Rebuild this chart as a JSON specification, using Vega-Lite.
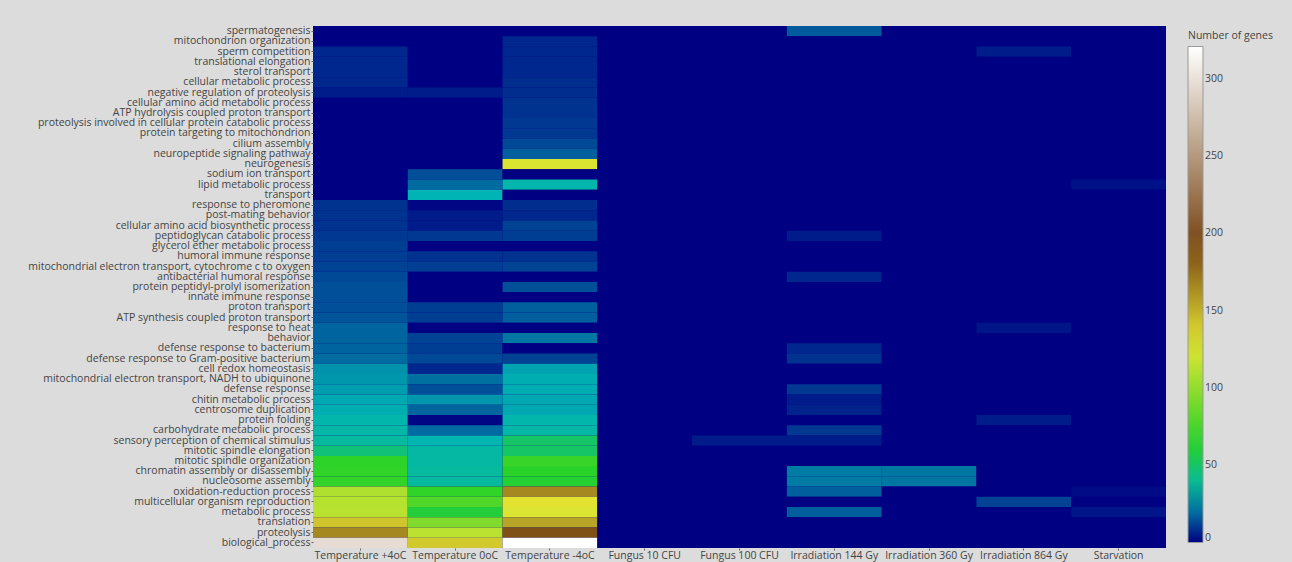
{
  "$schema": "https://vega.github.io/schema/vega-lite/v6.json",
  "width": 853,
  "height": 522,
  "autosize": {"type": "none"},
  "padding": {"left": 313, "top": 26, "right": 126, "bottom": 14},
  "background": "#dcdcdc",
  "config": {
    "view": {"stroke": null, "fill": "rgb(0,0,130)"},
    "font": "Open Sans",
    "axis": {"labelFont": "Open Sans", "labelFontSize": 10.5, "labelColor": "#444", "domain": false, "grid": false, "ticks": true, "tickSize": 2, "tickColor": "#666", "title": null}
  },
  "data": {"values": [
    {"term": "spermatogenesis", "Temperature +4oC": 0, "Temperature 0oC": 0, "Temperature -4oC": 0, "Fungus 10 CFU": 0, "Fungus 100 CFU": 0, "Irradiation 144 Gy": 16, "Irradiation 360 Gy": 0, "Irradiation 864 Gy": 0, "Starvation": 0},
    {"term": "mitochondrion organization", "Temperature +4oC": 0, "Temperature 0oC": 0, "Temperature -4oC": 7, "Fungus 10 CFU": 0, "Fungus 100 CFU": 0, "Irradiation 144 Gy": 0, "Irradiation 360 Gy": 0, "Irradiation 864 Gy": 0, "Starvation": 0},
    {"term": "sperm competition", "Temperature +4oC": 7, "Temperature 0oC": 0, "Temperature -4oC": 7, "Fungus 10 CFU": 0, "Fungus 100 CFU": 0, "Irradiation 144 Gy": 0, "Irradiation 360 Gy": 0, "Irradiation 864 Gy": 5, "Starvation": 0},
    {"term": "translational elongation", "Temperature +4oC": 7, "Temperature 0oC": 0, "Temperature -4oC": 7, "Fungus 10 CFU": 0, "Fungus 100 CFU": 0, "Irradiation 144 Gy": 0, "Irradiation 360 Gy": 0, "Irradiation 864 Gy": 0, "Starvation": 0},
    {"term": "sterol transport", "Temperature +4oC": 7, "Temperature 0oC": 0, "Temperature -4oC": 7, "Fungus 10 CFU": 0, "Fungus 100 CFU": 0, "Irradiation 144 Gy": 0, "Irradiation 360 Gy": 0, "Irradiation 864 Gy": 0, "Starvation": 0},
    {"term": "cellular metabolic process", "Temperature +4oC": 7, "Temperature 0oC": 0, "Temperature -4oC": 8, "Fungus 10 CFU": 0, "Fungus 100 CFU": 0, "Irradiation 144 Gy": 0, "Irradiation 360 Gy": 0, "Irradiation 864 Gy": 0, "Starvation": 0},
    {"term": "negative regulation of proteolysis", "Temperature +4oC": 5, "Temperature 0oC": 5, "Temperature -4oC": 8, "Fungus 10 CFU": 0, "Fungus 100 CFU": 0, "Irradiation 144 Gy": 0, "Irradiation 360 Gy": 0, "Irradiation 864 Gy": 0, "Starvation": 0},
    {"term": "cellular amino acid metabolic process", "Temperature +4oC": 0, "Temperature 0oC": 0, "Temperature -4oC": 9, "Fungus 10 CFU": 0, "Fungus 100 CFU": 0, "Irradiation 144 Gy": 0, "Irradiation 360 Gy": 0, "Irradiation 864 Gy": 0, "Starvation": 0},
    {"term": "ATP hydrolysis coupled proton transport", "Temperature +4oC": 0, "Temperature 0oC": 0, "Temperature -4oC": 9, "Fungus 10 CFU": 0, "Fungus 100 CFU": 0, "Irradiation 144 Gy": 0, "Irradiation 360 Gy": 0, "Irradiation 864 Gy": 0, "Starvation": 0},
    {"term": "proteolysis involved in cellular protein catabolic process", "Temperature +4oC": 0, "Temperature 0oC": 0, "Temperature -4oC": 10, "Fungus 10 CFU": 0, "Fungus 100 CFU": 0, "Irradiation 144 Gy": 0, "Irradiation 360 Gy": 0, "Irradiation 864 Gy": 0, "Starvation": 0},
    {"term": "protein targeting to mitochondrion", "Temperature +4oC": 0, "Temperature 0oC": 0, "Temperature -4oC": 10, "Fungus 10 CFU": 0, "Fungus 100 CFU": 0, "Irradiation 144 Gy": 0, "Irradiation 360 Gy": 0, "Irradiation 864 Gy": 0, "Starvation": 0},
    {"term": "cilium assembly", "Temperature +4oC": 0, "Temperature 0oC": 0, "Temperature -4oC": 13, "Fungus 10 CFU": 0, "Fungus 100 CFU": 0, "Irradiation 144 Gy": 0, "Irradiation 360 Gy": 0, "Irradiation 864 Gy": 0, "Starvation": 0},
    {"term": "neuropeptide signaling pathway", "Temperature +4oC": 0, "Temperature 0oC": 0, "Temperature -4oC": 17, "Fungus 10 CFU": 0, "Fungus 100 CFU": 0, "Irradiation 144 Gy": 0, "Irradiation 360 Gy": 0, "Irradiation 864 Gy": 0, "Starvation": 0},
    {"term": "neurogenesis", "Temperature +4oC": 0, "Temperature 0oC": 0, "Temperature -4oC": 124, "Fungus 10 CFU": 0, "Fungus 100 CFU": 0, "Irradiation 144 Gy": 0, "Irradiation 360 Gy": 0, "Irradiation 864 Gy": 0, "Starvation": 0},
    {"term": "sodium ion transport", "Temperature +4oC": 0, "Temperature 0oC": 14, "Temperature -4oC": 0, "Fungus 10 CFU": 0, "Fungus 100 CFU": 0, "Irradiation 144 Gy": 0, "Irradiation 360 Gy": 0, "Irradiation 864 Gy": 0, "Starvation": 0},
    {"term": "lipid metabolic process", "Temperature +4oC": 0, "Temperature 0oC": 19, "Temperature -4oC": 34, "Fungus 10 CFU": 0, "Fungus 100 CFU": 0, "Irradiation 144 Gy": 0, "Irradiation 360 Gy": 0, "Irradiation 864 Gy": 0, "Starvation": 3},
    {"term": "transport", "Temperature +4oC": 0, "Temperature 0oC": 32, "Temperature -4oC": 0, "Fungus 10 CFU": 0, "Fungus 100 CFU": 0, "Irradiation 144 Gy": 0, "Irradiation 360 Gy": 0, "Irradiation 864 Gy": 0, "Starvation": 0},
    {"term": "response to pheromone", "Temperature +4oC": 9, "Temperature 0oC": 1, "Temperature -4oC": 8, "Fungus 10 CFU": 0, "Fungus 100 CFU": 0, "Irradiation 144 Gy": 0, "Irradiation 360 Gy": 0, "Irradiation 864 Gy": 0, "Starvation": 0},
    {"term": "post-mating behavior", "Temperature +4oC": 9, "Temperature 0oC": 5, "Temperature -4oC": 7, "Fungus 10 CFU": 0, "Fungus 100 CFU": 0, "Irradiation 144 Gy": 0, "Irradiation 360 Gy": 0, "Irradiation 864 Gy": 0, "Starvation": 0},
    {"term": "cellular amino acid biosynthetic process", "Temperature +4oC": 9, "Temperature 0oC": 5, "Temperature -4oC": 12, "Fungus 10 CFU": 0, "Fungus 100 CFU": 0, "Irradiation 144 Gy": 0, "Irradiation 360 Gy": 0, "Irradiation 864 Gy": 0, "Starvation": 0},
    {"term": "peptidoglycan catabolic process", "Temperature +4oC": 10, "Temperature 0oC": 10, "Temperature -4oC": 11, "Fungus 10 CFU": 0, "Fungus 100 CFU": 0, "Irradiation 144 Gy": 5, "Irradiation 360 Gy": 0, "Irradiation 864 Gy": 0, "Starvation": 0},
    {"term": "glycerol ether metabolic process", "Temperature +4oC": 11, "Temperature 0oC": 0, "Temperature -4oC": 0, "Fungus 10 CFU": 0, "Fungus 100 CFU": 0, "Irradiation 144 Gy": 0, "Irradiation 360 Gy": 0, "Irradiation 864 Gy": 0, "Starvation": 0},
    {"term": "humoral immune response", "Temperature +4oC": 11, "Temperature 0oC": 9, "Temperature -4oC": 9, "Fungus 10 CFU": 0, "Fungus 100 CFU": 0, "Irradiation 144 Gy": 0, "Irradiation 360 Gy": 0, "Irradiation 864 Gy": 0, "Starvation": 0},
    {"term": "mitochondrial electron transport, cytochrome c to oxygen", "Temperature +4oC": 12, "Temperature 0oC": 11, "Temperature -4oC": 12, "Fungus 10 CFU": 0, "Fungus 100 CFU": 0, "Irradiation 144 Gy": 0, "Irradiation 360 Gy": 0, "Irradiation 864 Gy": 0, "Starvation": 0},
    {"term": "antibacterial humoral response", "Temperature +4oC": 13, "Temperature 0oC": 0, "Temperature -4oC": 0, "Fungus 10 CFU": 0, "Fungus 100 CFU": 0, "Irradiation 144 Gy": 7, "Irradiation 360 Gy": 0, "Irradiation 864 Gy": 0, "Starvation": 0},
    {"term": "protein peptidyl-prolyl isomerization", "Temperature +4oC": 14, "Temperature 0oC": 0, "Temperature -4oC": 14, "Fungus 10 CFU": 0, "Fungus 100 CFU": 0, "Irradiation 144 Gy": 0, "Irradiation 360 Gy": 0, "Irradiation 864 Gy": 0, "Starvation": 0},
    {"term": "innate immune response", "Temperature +4oC": 14, "Temperature 0oC": 0, "Temperature -4oC": 0, "Fungus 10 CFU": 0, "Fungus 100 CFU": 0, "Irradiation 144 Gy": 0, "Irradiation 360 Gy": 0, "Irradiation 864 Gy": 0, "Starvation": 0},
    {"term": "proton transport", "Temperature +4oC": 14, "Temperature 0oC": 11, "Temperature -4oC": 17, "Fungus 10 CFU": 0, "Fungus 100 CFU": 0, "Irradiation 144 Gy": 0, "Irradiation 360 Gy": 0, "Irradiation 864 Gy": 0, "Starvation": 0},
    {"term": "ATP synthesis coupled proton transport", "Temperature +4oC": 15, "Temperature 0oC": 11, "Temperature -4oC": 17, "Fungus 10 CFU": 0, "Fungus 100 CFU": 0, "Irradiation 144 Gy": 0, "Irradiation 360 Gy": 0, "Irradiation 864 Gy": 0, "Starvation": 0},
    {"term": "response to heat", "Temperature +4oC": 18, "Temperature 0oC": 0, "Temperature -4oC": 0, "Fungus 10 CFU": 0, "Fungus 100 CFU": 0, "Irradiation 144 Gy": 0, "Irradiation 360 Gy": 0, "Irradiation 864 Gy": 4, "Starvation": 0},
    {"term": "behavior", "Temperature +4oC": 18, "Temperature 0oC": 12, "Temperature -4oC": 21, "Fungus 10 CFU": 0, "Fungus 100 CFU": 0, "Irradiation 144 Gy": 0, "Irradiation 360 Gy": 0, "Irradiation 864 Gy": 0, "Starvation": 0},
    {"term": "defense response to bacterium", "Temperature +4oC": 18, "Temperature 0oC": 11, "Temperature -4oC": 0, "Fungus 10 CFU": 0, "Fungus 100 CFU": 0, "Irradiation 144 Gy": 7, "Irradiation 360 Gy": 0, "Irradiation 864 Gy": 0, "Starvation": 0},
    {"term": "defense response to Gram-positive bacterium", "Temperature +4oC": 19, "Temperature 0oC": 13, "Temperature -4oC": 12, "Fungus 10 CFU": 0, "Fungus 100 CFU": 0, "Irradiation 144 Gy": 9, "Irradiation 360 Gy": 0, "Irradiation 864 Gy": 0, "Starvation": 0},
    {"term": "cell redox homeostasis", "Temperature +4oC": 26, "Temperature 0oC": 7, "Temperature -4oC": 29, "Fungus 10 CFU": 0, "Fungus 100 CFU": 0, "Irradiation 144 Gy": 0, "Irradiation 360 Gy": 0, "Irradiation 864 Gy": 0, "Starvation": 0},
    {"term": "mitochondrial electron transport, NADH to ubiquinone", "Temperature +4oC": 27, "Temperature 0oC": 20, "Temperature -4oC": 31, "Fungus 10 CFU": 0, "Fungus 100 CFU": 0, "Irradiation 144 Gy": 0, "Irradiation 360 Gy": 0, "Irradiation 864 Gy": 0, "Starvation": 0},
    {"term": "defense response", "Temperature +4oC": 28, "Temperature 0oC": 14, "Temperature -4oC": 31, "Fungus 10 CFU": 0, "Fungus 100 CFU": 0, "Irradiation 144 Gy": 10, "Irradiation 360 Gy": 0, "Irradiation 864 Gy": 0, "Starvation": 0},
    {"term": "chitin metabolic process", "Temperature +4oC": 30, "Temperature 0oC": 27, "Temperature -4oC": 30, "Fungus 10 CFU": 0, "Fungus 100 CFU": 0, "Irradiation 144 Gy": 5, "Irradiation 360 Gy": 0, "Irradiation 864 Gy": 0, "Starvation": 0},
    {"term": "centrosome duplication", "Temperature +4oC": 31, "Temperature 0oC": 18, "Temperature -4oC": 30, "Fungus 10 CFU": 0, "Fungus 100 CFU": 0, "Irradiation 144 Gy": 6, "Irradiation 360 Gy": 0, "Irradiation 864 Gy": 0, "Starvation": 0},
    {"term": "protein folding", "Temperature +4oC": 34, "Temperature 0oC": 1, "Temperature -4oC": 34, "Fungus 10 CFU": 0, "Fungus 100 CFU": 0, "Irradiation 144 Gy": 0, "Irradiation 360 Gy": 0, "Irradiation 864 Gy": 5, "Starvation": 0},
    {"term": "carbohydrate metabolic process", "Temperature +4oC": 35, "Temperature 0oC": 19, "Temperature -4oC": 35, "Fungus 10 CFU": 0, "Fungus 100 CFU": 0, "Irradiation 144 Gy": 10, "Irradiation 360 Gy": 0, "Irradiation 864 Gy": 0, "Starvation": 0},
    {"term": "sensory perception of chemical stimulus", "Temperature +4oC": 37, "Temperature 0oC": 33, "Temperature -4oC": 50, "Fungus 10 CFU": 0, "Fungus 100 CFU": 5, "Irradiation 144 Gy": 5, "Irradiation 360 Gy": 0, "Irradiation 864 Gy": 0, "Starvation": 0},
    {"term": "mitotic spindle elongation", "Temperature +4oC": 46, "Temperature 0oC": 36, "Temperature -4oC": 50, "Fungus 10 CFU": 0, "Fungus 100 CFU": 0, "Irradiation 144 Gy": 0, "Irradiation 360 Gy": 0, "Irradiation 864 Gy": 0, "Starvation": 0},
    {"term": "mitotic spindle organization", "Temperature +4oC": 66, "Temperature 0oC": 36, "Temperature -4oC": 70, "Fungus 10 CFU": 0, "Fungus 100 CFU": 0, "Irradiation 144 Gy": 0, "Irradiation 360 Gy": 0, "Irradiation 864 Gy": 0, "Starvation": 0},
    {"term": "chromatin assembly or disassembly", "Temperature +4oC": 67, "Temperature 0oC": 37, "Temperature -4oC": 64, "Fungus 10 CFU": 0, "Fungus 100 CFU": 0, "Irradiation 144 Gy": 22, "Irradiation 360 Gy": 21, "Irradiation 864 Gy": 0, "Starvation": 0},
    {"term": "nucleosome assembly", "Temperature +4oC": 68, "Temperature 0oC": 37, "Temperature -4oC": 62, "Fungus 10 CFU": 0, "Fungus 100 CFU": 0, "Irradiation 144 Gy": 22, "Irradiation 360 Gy": 21, "Irradiation 864 Gy": 0, "Starvation": 0},
    {"term": "oxidation-reduction process", "Temperature +4oC": 110, "Temperature 0oC": 67, "Temperature -4oC": 166, "Fungus 10 CFU": 0, "Fungus 100 CFU": 0, "Irradiation 144 Gy": 17, "Irradiation 360 Gy": 0, "Irradiation 864 Gy": 0, "Starvation": 2},
    {"term": "multicellular organism reproduction", "Temperature +4oC": 112, "Temperature 0oC": 78, "Temperature -4oC": 130, "Fungus 10 CFU": 0, "Fungus 100 CFU": 0, "Irradiation 144 Gy": 0, "Irradiation 360 Gy": 0, "Irradiation 864 Gy": 12, "Starvation": 0},
    {"term": "metabolic process", "Temperature +4oC": 113, "Temperature 0oC": 60, "Temperature -4oC": 125, "Fungus 10 CFU": 0, "Fungus 100 CFU": 0, "Irradiation 144 Gy": 17, "Irradiation 360 Gy": 0, "Irradiation 864 Gy": 0, "Starvation": 4},
    {"term": "translation", "Temperature +4oC": 142, "Temperature 0oC": 94, "Temperature -4oC": 155, "Fungus 10 CFU": 0, "Fungus 100 CFU": 0, "Irradiation 144 Gy": 0, "Irradiation 360 Gy": 0, "Irradiation 864 Gy": 0, "Starvation": 0},
    {"term": "proteolysis", "Temperature +4oC": 166, "Temperature 0oC": 114, "Temperature -4oC": 188, "Fungus 10 CFU": 0, "Fungus 100 CFU": 0, "Irradiation 144 Gy": 0, "Irradiation 360 Gy": 0, "Irradiation 864 Gy": 0, "Starvation": 0},
    {"term": "biological_process", "Temperature +4oC": 297, "Temperature 0oC": 140, "Temperature -4oC": 321, "Fungus 10 CFU": 0, "Fungus 100 CFU": 0, "Irradiation 144 Gy": 0, "Irradiation 360 Gy": 0, "Irradiation 864 Gy": 0, "Starvation": 0}
  ]},
  "transform": [
    {"fold": ["Temperature +4oC", "Temperature 0oC", "Temperature -4oC", "Fungus 10 CFU", "Fungus 100 CFU", "Irradiation 144 Gy", "Irradiation 360 Gy", "Irradiation 864 Gy", "Starvation"], "as": ["condition", "genes"]}
  ],
  "mark": {"type": "rect", "strokeWidth": 0},
  "encoding": {
    "x": {
      "field": "condition", "type": "nominal", "sort": null,
      "scale": {"paddingInner": 0, "paddingOuter": 0},
      "axis": {"labelAngle": 0, "labelPadding": 0, "labelLimit": 200}
    },
    "y": {
      "field": "term", "type": "nominal", "sort": null,
      "scale": {"paddingInner": 0, "paddingOuter": 0},
      "axis": {"labelPadding": 1, "labelLimit": 400, "tickSize": 2}
    },
    "color": {
      "field": "genes", "type": "quantitative",
      "scale": {
        "domain": [0, 32.1, 64.2, 128.4, 192.6, 321],
        "range": ["rgb(0,0,130)", "rgb(0,180,180)", "rgb(40,210,40)", "rgb(230,230,50)", "rgb(120,70,20)", "rgb(255,255,255)"],
        "interpolate": "rgb", "nice": false, "zero": false
      },
      "legend": {
        "title": "Number of genes",
        "orient": "none", "legendX": 875, "legendY": 5,
        "direction": "vertical",
        "gradientLength": 496, "gradientThickness": 15,
        "gradientStrokeColor": "#999", "gradientStrokeWidth": 1,
        "values": [0, 50, 100, 150, 200, 250, 300],
        "titleFont": "Open Sans", "titleFontSize": 10.5, "titleFontWeight": "normal", "titleColor": "#444", "titlePadding": 5,
        "labelFont": "Open Sans", "labelFontSize": 10.5, "labelColor": "#444", "labelOffset": 2, "labelOverlap": false
      }
    }
  }
}
